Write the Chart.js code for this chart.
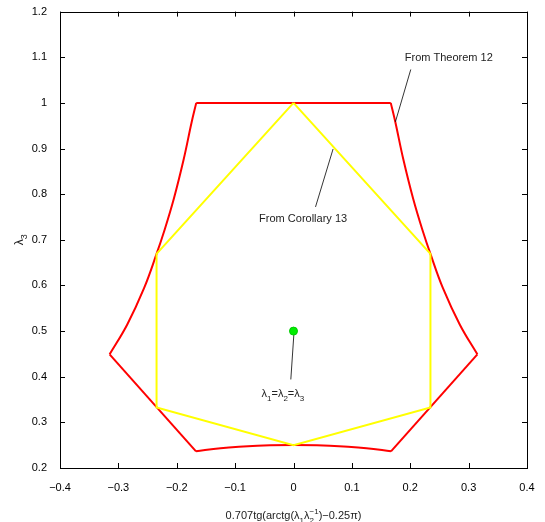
<!DOCTYPE html>
<html>
<head>
<meta charset="utf-8">
<script src="https://cdn.jsdelivr.net/npm/chart.js@4"></script>
<style>
  html, body { margin: 0; background: #fff; }
  #wrap { width: 545px; height: 522px; }
</style>
</head>
<body>
<div id="wrap"><canvas id="c" width="545" height="522"></canvas></div>
<script>
// ---- data
const xTicks = [-0.4, -0.3, -0.2, -0.1, 0, 0.1, 0.2, 0.3, 0.4];
const yTicks = [0.2, 0.3, 0.4, 0.5, 0.6, 0.7, 0.8, 0.9, 1.0, 1.1, 1.2];

// From Theorem 12 (red, closed outline)
const theoremX = [-0.1666, 0.1666, 0.1746, 0.188, 0.205, 0.222, 0.2346, 0.256, 0.285, 0.315,
                  0.167, 0.125, 0.086, 0.04, 0, -0.04, -0.086, -0.125, -0.167,
                  -0.315, -0.285, -0.256, -0.2346, -0.222, -0.205, -0.188, -0.1746, -0.1666];
const theoremY = [1.0, 1.0, 0.957, 0.877, 0.790, 0.717, 0.669, 0.594, 0.514, 0.449,
                  0.2366, 0.2435, 0.247, 0.2497, 0.2506, 0.2497, 0.247, 0.2435, 0.2366,
                  0.449, 0.514, 0.594, 0.669, 0.717, 0.790, 0.877, 0.957, 1.0];
// which stretches of the outline are curved (index ranges, inclusive)
const theoremCurves = [[1, 9], [10, 18], [19, 27]];
const theoremLines = [[0, 1], [9, 10], [18, 19]];

// From Corollary 13 (yellow, closed)
const corollaryX = [0, 0.2346, 0.2346, 0, -0.2346, -0.2346, 0];
const corollaryY = [1.0, 0.669, 0.3325, 0.25, 0.3325, 0.669, 1.0];

// lambda1 = lambda2 = lambda3
const eqX = [0];
const eqY = [0.5];

// annotation leader lines
const leadTheoremX = [0.2009, 0.1746], leadTheoremY = [1.0732, 0.9586];
const leadCorollaryX = [0.0678, 0.0377], leadCorollaryY = [0.899, 0.772];
const leadEqX = [0.001, -0.0046], leadEqY = [0.5, 0.394];

const zip = (xs, ys) => xs.map((x, i) => ({ x, y: ys[i] }));
const slice = ([a, b]) => zip(theoremX.slice(a, b + 1), theoremY.slice(a, b + 1));
const FONT = "'Liberation Sans', Arial, sans-serif";

// text with sub/superscripts
function drawRich(ctx, parts, x, y, size, align) {
  const big = size + 'px ' + FONT, small = Math.round(size * 0.75) + 'px ' + FONT;
  const w = p => {
    if (p.stack) { ctx.font = small; return Math.max(ctx.measureText(p.stack[0]).width, ctx.measureText(p.stack[1]).width); }
    ctx.font = (p.sub || p.sup) ? small : big; return ctx.measureText(p.t).width;
  };
  const total = parts.reduce((a, p) => a + w(p), 0);
  let cx = align === 'center' ? x - total / 2 : x;
  ctx.textAlign = 'left';
  ctx.textBaseline = 'alphabetic';
  parts.forEach(p => {
    const pw = w(p);
    if (p.stack) {
      ctx.font = small;
      ctx.fillText(p.stack[0], cx, y - size * 0.45);
      ctx.fillText(p.stack[1], cx, y + size * 0.35);
    } else if (p.sub) {
      ctx.font = small; ctx.fillText(p.t, cx, y + size * 0.35);
    } else if (p.sup) {
      ctx.font = small; ctx.fillText(p.t, cx, y - size * 0.45);
    } else {
      ctx.font = big; ctx.fillText(p.t, cx, y);
    }
    cx += pw;
  });
}

const frame = {
  id: 'frame',
  afterDraw(chart) {
    const { ctx, chartArea: a } = chart;
    const sx = chart.scales.x, sy = chart.scales.y;
    ctx.save();
    ctx.strokeStyle = '#000';
    ctx.lineWidth = 1;
    ctx.strokeRect(Math.round(a.left) + 0.5, Math.round(a.top) + 0.5,
                   Math.round(a.right - a.left), Math.round(a.bottom - a.top));
    // inner ticks on all four sides
    const L = 5;
    ctx.beginPath();
    xTicks.forEach(v => {
      const px = Math.round(sx.getPixelForValue(v)) + 0.5;
      ctx.moveTo(px, a.bottom); ctx.lineTo(px, a.bottom - L);
      ctx.moveTo(px, a.top); ctx.lineTo(px, a.top + L);
    });
    yTicks.forEach(v => {
      const py = Math.round(sy.getPixelForValue(v)) + 0.5;
      ctx.moveTo(a.left, py); ctx.lineTo(a.left + L, py);
      ctx.moveTo(a.right, py); ctx.lineTo(a.right - L, py);
    });
    ctx.stroke();

    // annotations
    ctx.fillStyle = '#222';
    ctx.font = '11px ' + FONT;
    ctx.textAlign = 'left';
    ctx.textBaseline = 'middle';
    ctx.fillText('From Theorem 12', sx.getPixelForValue(0.1906), sy.getPixelForValue(1.0987));
    ctx.fillText('From Corollary 13', sx.getPixelForValue(-0.0589), sy.getPixelForValue(0.7464));
    drawRich(ctx, [{ t: 'λ' }, { t: '1', sub: true }, { t: '=λ' }, { t: '2', sub: true }, { t: '=λ' }, { t: '3', sub: true }],
      sx.getPixelForValue(-0.0548), sy.getPixelForValue(0.3645) + 4, 11, 'left');

    // axis titles
    drawRich(ctx, [{ t: '0.707tg(arctg(λ' }, { t: '1', sub: true }, { t: 'λ' }, { stack: ['−1', '2'] }, { t: ')−0.25π)' }],
      (a.left + a.right) / 2, 519, 11, 'center');
    ctx.translate(23, (a.top + a.bottom) / 2);
    ctx.rotate(-Math.PI / 2);
    drawRich(ctx, [{ t: 'λ' }, { t: '3', sub: true }], 0, 0, 12, 'center');
    ctx.restore();
  }
};

const tickFmt = v => String(Math.round(v * 10) / 10).replace('-', '−');

const redStyle = { showLine: true, borderColor: '#ff0000', borderWidth: 2, pointRadius: 0, borderJoinStyle: 'round', order: 3 };
const redSets = [
  ...theoremLines.map(r => ({ ...redStyle, data: slice(r) })),
  ...theoremCurves.map(r => ({ ...redStyle, data: slice(r), tension: 0.4 }))
];

new Chart(document.getElementById('c'), {
  type: 'scatter',
  data: {
    datasets: [
      { data: zip(eqX, eqY), order: 0, pointRadius: 4, backgroundColor: '#00ee00', borderColor: '#00cc00', borderWidth: 1 },
      { data: zip(leadTheoremX, leadTheoremY), order: 1, showLine: true, borderColor: '#000', borderWidth: 0.8, pointRadius: 0 },
      { data: zip(leadCorollaryX, leadCorollaryY), order: 1, showLine: true, borderColor: '#000', borderWidth: 0.8, pointRadius: 0 },
      { data: zip(leadEqX, leadEqY), order: 1, showLine: true, borderColor: '#000', borderWidth: 0.8, pointRadius: 0 },
      { data: zip(corollaryX, corollaryY), order: 2, showLine: true, borderColor: '#ffff00', borderWidth: 2, pointRadius: 0 },
      ...redSets
    ]
  },
  options: {
    responsive: false,
    animation: false,
    devicePixelRatio: 1,
    layout: { padding: { left: 0, right: 18, top: 8, bottom: 0 } },
    plugins: { legend: { display: false }, tooltip: { enabled: false } },
    scales: {
      x: {
        type: 'linear', min: -0.4, max: 0.4,
        afterBuildTicks: s => { s.ticks = xTicks.map(v => ({ value: v })); },
        afterFit: s => { s.height = 54; },
        grid: { display: false }, border: { display: false },
        ticks: { callback: tickFmt, color: '#000', padding: 5, maxRotation: 0, font: { family: FONT, size: 11 } }
      },
      y: {
        type: 'linear', min: 0.2, max: 1.2,
        afterBuildTicks: s => { s.ticks = yTicks.map(v => ({ value: v })); },
        afterFit: s => { s.width = 60; },
        grid: { display: false }, border: { display: false },
        ticks: { callback: tickFmt, color: '#000', padding: 5, font: { family: FONT, size: 11 } }
      }
    }
  },
  plugins: [frame]
});
</script>
</body>
</html>
